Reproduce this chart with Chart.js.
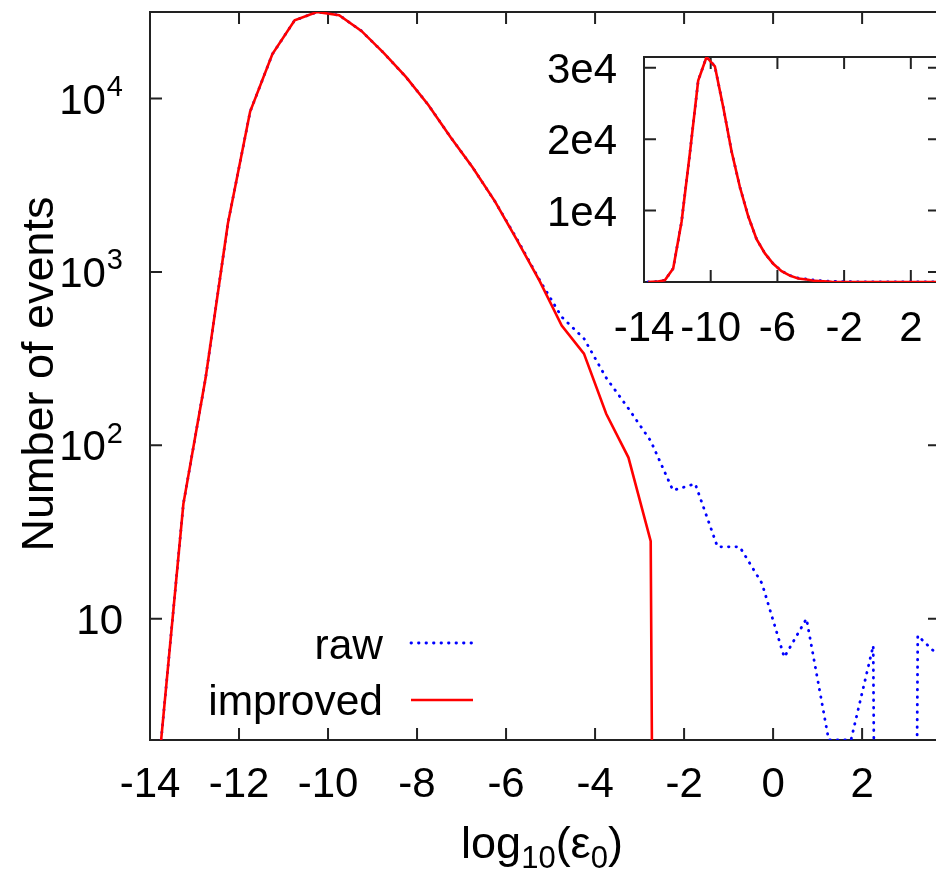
<!DOCTYPE html>
<html>
<head>
<meta charset="utf-8">
<script src="https://cdn.jsdelivr.net/npm/chart.js@4.4.1/dist/chart.umd.min.js"></script>
<style>
  html, body { margin: 0; padding: 0; background: #fff; overflow: hidden; }
  #wrap { position: relative; width: 936px; height: 873px; overflow: hidden; }
  #main { position: absolute; left: 0; top: 0; }
  #inset { position: absolute; left: 540px; top: 20px; }
</style>
</head>
<body>
<div id="wrap">
  <canvas id="main" width="960" height="873"></canvas>
  <canvas id="inset" width="420" height="340"></canvas>
</div>
<script>
// bin centres of log10(eps0)
const binCenters = [-13.75, -13.25, -12.75, -12.25, -11.75, -11.25, -10.75, -10.25, -9.75, -9.25,
	-8.75, -8.25, -7.75, -7.25, -6.75, -6.25, -5.75, -5.25, -4.75, -4.25,
	-3.75, -3.25, -2.75, -2.25, -1.75, -1.25, -0.75, -0.25, 0.25, 0.75,
	1.25, 1.75, 2.25, 2.75, 3.25, 3.75];

const rawCounts = [2, 46, 245, 1900, 8400, 18000, 28200, 31500, 30200, 24500,
	18300, 13300, 9200, 6000, 4000, 2550, 1540, 900, 550, 413,
	245, 163, 106, 55, 60, 26, 26, 16, 6, 10,
	2, 2, 7, 0, 8, 6];

const improvedCounts = [2, 46, 245, 1900, 8400, 18000, 28200, 31500, 30200, 24500,
	18300, 13300, 9200, 6000, 4000, 2550, 1520, 890, 490, 338,
	152, 85, 28, 0, 0, 0, 0, 0, 0, 0,
	0, 0, 0, 0, 0, 0];

const xTicks = [-14, -12, -10, -8, -6, -4, -2, 0, 2];
const yTicks = [10, 100, 1000, 10000];
const yTickBase = ['10', '10', '10', '10'];
const yTickExp = ['', '2', '3', '4'];

const insetXTicks = [-14, -10, -6, -2, 2];
const insetYTicks = [10000, 20000, 30000];
const insetYLabels = ['1e4', '2e4', '3e4'];

const seriesNames = ['raw', 'improved'];

const FONT = "'Liberation Sans', Arial, sans-serif";
const AXIS = '#222';
const BLUE = '#0000ff';
const RED = '#ff0000';

// empty bins drop straight off the bottom of a log axis, like gnuplot does
const forLog = (arr) => arr.map((v) => (v > 0 ? v : 1e-20));
const pairs = (arr) => binCenters.map((c, i) => ({ x: c, y: arr[i] }));

// frame, inward ticks and tick labels
const framePlugin = {
	id: 'frame',
	beforeDatasetsDraw(chart, args, opts) {
		const { ctx, chartArea: a, scales: { x, y } } = chart;
		ctx.save();
		ctx.strokeStyle = AXIS;
		ctx.lineWidth = 2;
		ctx.strokeRect(a.left, a.top, a.right - a.left, a.bottom - a.top);
		ctx.beginPath();
		opts.xTicks.forEach((v) => {
			const px = x.getPixelForValue(v);
			ctx.moveTo(px, a.bottom); ctx.lineTo(px, a.bottom - 12);
			ctx.moveTo(px, a.top); ctx.lineTo(px, a.top + 12);
		});
		opts.yTicks.forEach((v) => {
			const py = y.getPixelForValue(v);
			ctx.moveTo(a.left, py); ctx.lineTo(a.left + 12, py);
			ctx.moveTo(a.right, py); ctx.lineTo(a.right - 12, py);
		});
		ctx.stroke();

		ctx.fillStyle = '#000';
		ctx.font = opts.fontSize + 'px ' + FONT;
		ctx.textBaseline = 'alphabetic';
		ctx.textAlign = 'center';
		opts.xTicks.forEach((v) => {
			ctx.fillText(String(v), x.getPixelForValue(v), a.bottom + opts.xDrop);
		});
		opts.yTicks.forEach((v, i) => {
			const py = y.getPixelForValue(v) + opts.fontSize * 0.36;
			const right = a.left - opts.yGap;
			const base = opts.yBase[i];
			const sup = opts.yExp ? opts.yExp[i] : '';
			ctx.textAlign = 'right';
			if (sup) {
				ctx.font = Math.round(opts.fontSize * 0.7) + 'px ' + FONT;
				const w = ctx.measureText(sup).width;
				ctx.fillText(sup, right, py - opts.fontSize * 0.42);
				ctx.font = opts.fontSize + 'px ' + FONT;
				ctx.fillText(base, right - w - 1, py);
			} else {
				ctx.font = opts.fontSize + 'px ' + FONT;
				ctx.fillText(base, right, py);
			}
		});
		ctx.restore();
	},
};

// axis titles and the legend of the big panel
const titlePlugin = {
	id: 'titles',
	afterDraw(chart) {
		const { ctx, chartArea: a } = chart;
		ctx.save();
		ctx.fillStyle = '#000';
		ctx.textBaseline = 'alphabetic';

		// y title
		ctx.save();
		ctx.translate(53, 374);
		ctx.rotate(-Math.PI / 2);
		ctx.textAlign = 'center';
		ctx.font = '45px ' + FONT;
		ctx.fillText('Number of events', 0, 0);
		ctx.restore();

		// x title: log10(eps0) with subscripts
		const parts = [
			['log', 45, 0], ['10', 31, 10], ['(\u03b5', 45, 0], ['0', 31, 10], [')', 45, 0],
		];
		let total = 0;
		parts.forEach((p) => { ctx.font = p[1] + 'px ' + FONT; total += ctx.measureText(p[0]).width; });
		let cx = 542 - total / 2;
		ctx.textAlign = 'left';
		parts.forEach((p) => {
			ctx.font = p[1] + 'px ' + FONT;
			ctx.fillText(p[0], cx, 858 + p[2]);
			cx += ctx.measureText(p[0]).width;
		});

		// legend: label on the left, line sample on the right
		ctx.font = '42.5px ' + FONT;
		ctx.textAlign = 'right';
		const rows = [[659, 643], [715, 700]];
		chart.data.datasets.forEach((ds, i) => {
			ctx.fillText(ds.label, 383, rows[i][0]);
			ctx.save();
			ctx.strokeStyle = ds.borderColor;
			ctx.lineWidth = ds.borderWidth;
			ctx.lineCap = ds.borderCapStyle || 'butt';
			ctx.setLineDash(ds.borderDash || []);
			ctx.beginPath();
			ctx.moveTo(411, rows[i][1]);
			ctx.lineTo(473, rows[i][1]);
			ctx.stroke();
			ctx.restore();
		});
		ctx.restore();
	},
};

const lineStyle = (i) => (i === 0
	? { borderColor: BLUE, borderWidth: 2.8, borderDash: [0.5, 7], borderCapStyle: 'round', order: 1 }
	: { borderColor: RED, borderWidth: 2.6, borderDash: [], borderCapStyle: 'butt', order: 0 });

const mainChart = new Chart(document.getElementById('main').getContext('2d'), {
	type: 'line',
	data: {
		datasets: [rawCounts, improvedCounts].map((arr, i) => ({
			label: seriesNames[i],
			data: pairs(forLog(arr)),
			pointRadius: 0,
			tension: 0,
			fill: false,
			...lineStyle(i),
		})),
	},
	options: {
		responsive: false,
		animation: false,
		layout: { padding: { left: 0, right: 20, top: 12, bottom: 0 } },
		plugins: {
			legend: { display: false },
			tooltip: { enabled: false },
			frame: { xTicks, yTicks, yBase: yTickBase, yExp: yTickExp, fontSize: 42, xDrop: 57, yGap: 27 },
		},
		scales: {
			x: {
				type: 'linear', min: -14, max: 3.75,
				grid: { display: false, drawTicks: false },
				border: { display: false },
				ticks: { display: false },
				afterFit: (s) => { s.height = 133; },
			},
			y: {
				type: 'logarithmic', min: 2, max: 31500,
				grid: { display: false, drawTicks: false },
				border: { display: false },
				ticks: { display: false },
				afterFit: (s) => { s.width = 150; },
			},
		},
	},
	plugins: [framePlugin, titlePlugin],
});

const insetChart = new Chart(document.getElementById('inset').getContext('2d'), {
	type: 'line',
	data: {
		datasets: [rawCounts, improvedCounts].map((arr, i) => ({
			label: seriesNames[i],
			data: pairs(arr),
			pointRadius: 0,
			tension: 0,
			fill: false,
			...lineStyle(i),
		})),
	},
	options: {
		responsive: false,
		animation: false,
		layout: { padding: { left: 0, right: 20, top: 37, bottom: 0 } },
		plugins: {
			legend: { display: false },
			tooltip: { enabled: false },
			frame: { xTicks: insetXTicks, yTicks: insetYTicks, yBase: insetYLabels, fontSize: 42, xDrop: 59, yGap: 27 },
		},
		scales: {
			x: {
				type: 'linear', min: -14, max: 3.75,
				grid: { display: false, drawTicks: false },
				border: { display: false },
				ticks: { display: false },
				afterFit: (s) => { s.height = 78; },
			},
			y: {
				type: 'linear', min: 0, max: 31500,
				grid: { display: false, drawTicks: false },
				border: { display: false },
				ticks: { display: false },
				afterFit: (s) => { s.width = 104; },
			},
		},
	},
	plugins: [framePlugin],
});
</script>
</body>
</html>
